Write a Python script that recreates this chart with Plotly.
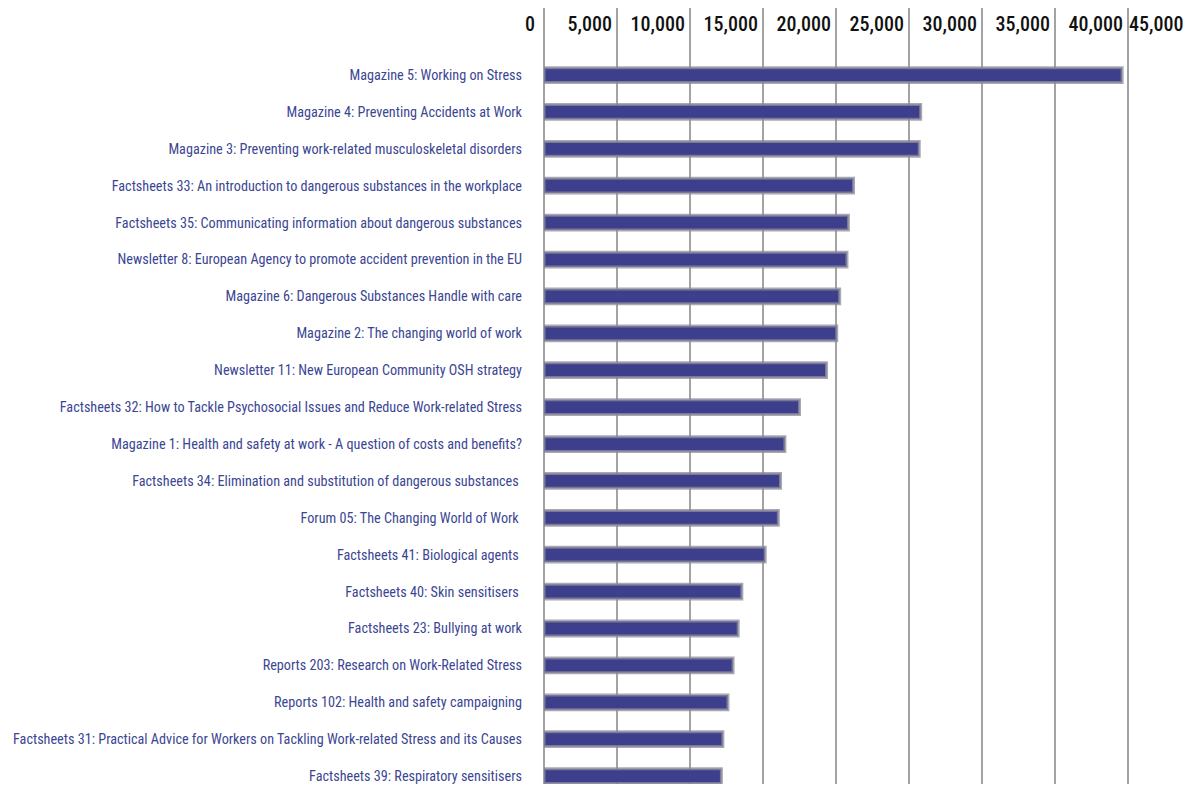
import plotly.graph_objects as go

categories = [
    "Magazine 5: Working on Stress",
    "Magazine 4: Preventing Accidents at Work",
    "Magazine 3: Preventing work-related musculoskeletal disorders",
    "Factsheets 33: An introduction to dangerous substances in the workplace",
    "Factsheets 35: Communicating information about dangerous substances",
    "Newsletter 8: European Agency to promote accident prevention in the EU",
    "Magazine 6: Dangerous Substances Handle with care",
    "Magazine 2: The changing world of work",
    "Newsletter 11: New European Community OSH strategy",
    "Factsheets 32: How to Tackle Psychosocial Issues and Reduce Work-related Stress",
    "Magazine 1: Health and safety at work - A question of costs and benefits?",
    "Factsheets 34: Elimination and substitution of dangerous substances ",
    "Forum 05: The Changing World of Work ",
    "Factsheets 41: Biological agents ",
    "Factsheets 40: Skin sensitisers ",
    "Factsheets 23: Bullying at work",
    "Reports 203: Research on Work-Related Stress",
    "Reports 102: Health and safety campaigning",
    "Factsheets 31: Practical Advice for Workers on Tackling Work-related Stress and its Causes",
    "Factsheets 39: Respiratory sensitisers",
]
values = [39600, 25800, 25700, 21200, 20850, 20750, 20250, 20050, 19350, 17500,
          16500, 16200, 16050, 15150, 13550, 13300, 12950, 12600, 12250, 12150]

tick_values = [0, 5000, 10000, 15000, 20000, 25000, 30000, 35000, 40000, 45000]
tick_labels = ["0", "5,000", "10,000", "15,000", "20,000", "25,000", "30,000",
               "35,000", "40,000", "45,000"]

X_MAX = 43973
LABEL_FONT = "Roboto Condensed, Liberation Sans, sans-serif"
TICK_FONT = dict(family=LABEL_FONT, size=20, color="#111111", weight=500)

fig = go.Figure()
fig.add_trace(go.Bar(
    x=values, y=categories, orientation="h",
    width=0.4,
    marker=dict(color="#3d3f8c", line=dict(color="rgba(140,140,155,0.75)", width=3)),
    showlegend=False,
))

fig.update_layout(
    width=1178, height=776,
    margin=dict(l=536, r=0, t=0, b=0, autoexpand=False),
    paper_bgcolor="white", plot_bgcolor="white",
    xaxis=dict(
        side="top", range=[0, X_MAX], automargin=False,
        tickvals=tick_values, ticktext=tick_labels,
        ticklabelposition="inside left", tickangle=0,
        ticklabelshift=-5, ticklabelstandoff=3,
        tickfont=TICK_FONT,
        showgrid=True, gridcolor="#a3a3a3", gridwidth=2,
        zeroline=True, zerolinecolor="#a3a3a3", zerolinewidth=2,
        showline=False, ticks="",
    ),
    yaxis=dict(
        range=[19.214, -1.816], automargin=False,
        tickfont=dict(family=LABEL_FONT, size=14.2, color="#3b4693"),
        ticklabelstandoff=21,
        showgrid=False, zeroline=False, showline=False, ticks="",
    ),
)

# tick labels that fall outside the plot area ("0" left of it, "45,000" past its right edge)
for v, t in [(tick_values[0], tick_labels[0]), (tick_values[-1], tick_labels[-1])]:
    fig.add_annotation(
        x=min(v / X_MAX, 1.0), y=1, xref="paper", yref="paper", yanchor="top",
        text=t, showarrow=False, xanchor="right", xshift=-7 if v == 0 else -1, yshift=-2,
        font=TICK_FONT,
    )

fig.write_html("out.html")
